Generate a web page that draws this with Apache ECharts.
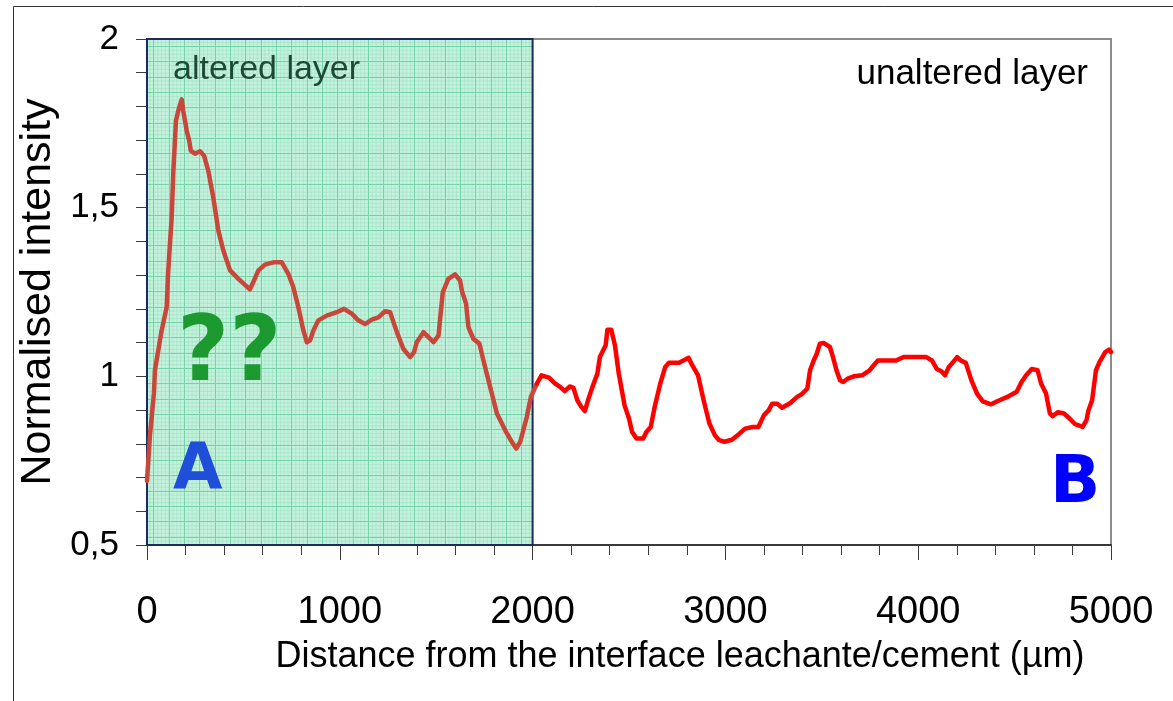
<!DOCTYPE html>
<html>
<head>
<meta charset="utf-8">
<script src="https://cdn.jsdelivr.net/npm/echarts@6/dist/echarts.min.js"></script>
<style>
html,body{margin:0;padding:0;background:#fff;}
#chart{width:1173px;height:701px;}
</style>
</head>
<body>
<div id="chart"></div>
<script>
// distance (µm)
var distance = [0,16,36,41,76,102,109,119,128,136,150,162,180,188,206,219,227,249,275,296,318,344,370,396,431,474,534,551,578,612,655,699,733,759,785,811,829,846,863,889,932,984,1022,1062,1096,1131,1166,1200,1235,1261,1296,1330,1365,1385,1399,1434,1460,1486,1512,1534,1563,1598,1624,1633,1655,1667,1693,1724,1745,1771,1815,1858,1892,1915,1936,1970,1991,2022,
2046,2085,2114,2144,2167,2193,2212,2232,2251,2271,2290,2310,2336,2349,2379,2388,2408,2427,2447,2477,2500,2516,2539,2574,2590,2613,2633,2662,2688,2707,2760,2809,2828,2858,2887,2917,2946,2965,2995,3034,3073,3102,3141,3171,3200,3224,3243,3269,3294,3337,3372,3396,3425,3439,3458,3474,3490,3509,3542,3558,3576,3595,3611,3634,3666,3709,3748,3777,3791,3885,3924,4042,4071,4096,4120,4139,4159,4178,4202,4221,4247,4276,4305,4335,4378,4413,4462,4511,4536,4560,4589,4619,4638,4663,4683,4697,4726,4756,4785,4814,4853,4873,4883,4902,4922,4941,4970,4990,5000];
// normalised intensity
var intensity = [0.69,0.83,0.95,1.018,1.136,1.205,1.30,1.393,1.47,1.6,1.757,1.787,1.821,1.787,1.728,1.698,1.669,1.66,1.667,1.654,1.609,1.53,1.432,1.373,1.314,1.289,1.258,1.279,1.314,1.331,1.338,1.338,1.304,1.264,1.205,1.136,1.101,1.107,1.136,1.166,1.18,1.19,1.2,1.186,1.166,1.155,1.168,1.175,1.193,1.19,1.131,1.081,1.057,1.072,1.101,1.131,1.116,1.101,1.121,1.249,1.289,1.302,1.284,1.254,1.215,1.146,1.111,1.097,1.047,0.988,0.89,0.84,0.806,0.786,0.806,0.88,0.939,0.978,
1.003,0.996,0.980,0.968,0.956,0.970,0.966,0.929,0.911,0.897,0.934,0.968,1.008,1.057,1.092,1.138,1.138,1.092,1.008,0.914,0.875,0.835,0.816,0.816,0.835,0.850,0.909,0.978,1.028,1.04,1.04,1.055,1.033,1.003,0.929,0.860,0.825,0.812,0.806,0.812,0.830,0.845,0.850,0.850,0.885,0.899,0.919,0.919,0.907,0.921,0.939,0.947,0.964,1.018,1.047,1.067,1.097,1.099,1.087,1.057,1.018,0.988,0.983,0.993,1.0,1.003,1.018,1.038,1.047,1.047,1.057,1.057,1.047,1.022,1.015,1.003,1.028,1.040,1.057,1.047,1.040,0.988,0.949,0.926,0.917,0.927,0.939,0.954,0.983,1.003,1.022,1.018,0.978,0.949,0.890,0.882,0.894,0.890,0.875,0.858,0.850,0.870,0.899,0.929,1.018,1.043,1.072,1.079,1.072];
var alteredLimit = 2000;   // end of the altered layer (µm)
var splitAt = 2022;        // last measured point drawn inside the altered box
var yTicks = [0.5, 1, 1.5, 2];
var xTicks = [0, 1000, 2000, 3000, 4000, 5000];

var seriesData = distance.map(function(d, i){ return [d, intensity[i]]; });
var alteredData = seriesData.filter(function(p){ return p[0] <= splitAt; });
var unalteredData = seriesData.filter(function(p){ return p[0] >= splitAt; });

// grid-paper pattern for the altered layer
var pc = document.createElement('canvas');
pc.width = 46; pc.height = 46;
var ctx = pc.getContext('2d');
ctx.fillStyle = '#c6f1dc';
ctx.fillRect(0,0,46,46);
ctx.strokeStyle = 'rgba(150,225,195,0.55)';
ctx.lineWidth = 1;
for (var k = 0; k < 46; k += 3.833) {
  ctx.beginPath(); ctx.moveTo(k+0.5,0); ctx.lineTo(k+0.5,46); ctx.stroke();
  ctx.beginPath(); ctx.moveTo(0,k+0.5); ctx.lineTo(46,k+0.5); ctx.stroke();
}
ctx.strokeStyle = '#74d6a8';
for (var j = 0; j < 3; j++) {
  var p = Math.round(j * 15.333) + 0.5;
  ctx.beginPath(); ctx.moveTo(p,0); ctx.lineTo(p,46); ctx.stroke();
  ctx.beginPath(); ctx.moveTo(0,p); ctx.lineTo(46,p); ctx.stroke();
}

var FONT = '"Liberation Sans", Arial, sans-serif';
var chart = echarts.init(document.getElementById('chart'), null, {renderer:'canvas'});
chart.setOption({
  backgroundColor: '#ffffff',
  animation: false,
  grid: {left:147, top:39, right:62, bottom:156, show:true, borderColor:'#8c8c8c', borderWidth:2, backgroundColor:'#ffffff'},
  xAxis: {
    type:'value', min:xTicks[0], max:xTicks[xTicks.length-1], interval:1000,
    name:'Distance from the interface leachante/cement (µm)',
    nameLocation:'middle', nameGap:94,
    nameTextStyle:{fontFamily:FONT, fontSize:36, color:'#000', padding:[0,0,0,102]},
    axisLine:{show:true, onZero:false, lineStyle:{color:'#3a3a3a', width:2}},
    axisTick:{show:true, length:15, lineStyle:{color:'#3a3a3a', width:1}},
    minorTick:{show:true, splitNumber:5, length:10, lineStyle:{color:'#3a3a3a', width:1}},
    axisLabel:{margin:49, fontFamily:FONT, fontSize:38, color:'#000',
      formatter:function(v){ return String(v); }},
    splitLine:{show:false}
  },
  yAxis: {
    type:'value', min:yTicks[0], max:yTicks[yTicks.length-1], interval:0.5,
    name:'Normalised intensity',
    nameLocation:'middle', nameGap:74,
    nameTextStyle:{fontFamily:FONT, fontSize:43, color:'#000'},
    axisLine:{show:true, onZero:false, lineStyle:{color:'#3a3a3a', width:2}},
    axisTick:{show:true, length:11, lineStyle:{color:'#3a3a3a', width:1}},
    minorTick:{show:true, splitNumber:5, length:11, lineStyle:{color:'#3a3a3a', width:1}},
    axisLabel:{margin:28, fontFamily:FONT, fontSize:35, color:'#000',
      formatter:function(v){ return String(v).replace('.', ','); }},
    splitLine:{show:false}
  },
  series: [{
    name:'altered', type:'line', data:alteredData, showSymbol:false, symbol:'none',
    lineStyle:{width:4.5, color:'#c9473a', cap:'round', join:'round'}, itemStyle:{color:'#c9473a'}, z:5,
    markArea:{
      silent:true,
      itemStyle:{color:{image:pc, repeat:'repeat'}, borderColor:'#1c2b5e', borderWidth:2},
      data:[[{xAxis:0, yAxis:yTicks[0]},{xAxis:alteredLimit, yAxis:yTicks[yTicks.length-1]}]]
    }
  },{
    name:'unaltered', type:'line', data:unalteredData, showSymbol:false, symbol:'none',
    lineStyle:{width:4.5, color:'#ff0000', cap:'round', join:'round'}, itemStyle:{color:'#ff0000'}, z:5
  }],
  graphic: [
    {type:'rect', z:-10, shape:{x:13.5, y:6.5, width:1300, height:900}, style:{fill:'none', stroke:'#333', lineWidth:1}},
    {type:'text', left:173, top:53, z:100, style:{text:'altered layer', font:'34px ' + FONT, fill:'#1d4a37'}},
    {type:'text', right:85, top:57, z:100, style:{text:'unaltered layer', font:'35px ' + FONT, fill:'#000'}},
    {type:'text', left:177, top:312, z:100, style:{text:'??', font:'bold 90px "DejaVu Sans", sans-serif', fill:'#1c9a30'}},
    {type:'text', left:173, top:440, z:100, style:{text:'A', font:'bold 64px "DejaVu Sans", sans-serif', fill:'#1f4fd8'}},
    {type:'text', left:1050, top:452, z:100, style:{text:'B', font:'bold 66px "DejaVu Sans", sans-serif', fill:'#0000ff'}}
  ]
});
</script>
</body>
</html>
